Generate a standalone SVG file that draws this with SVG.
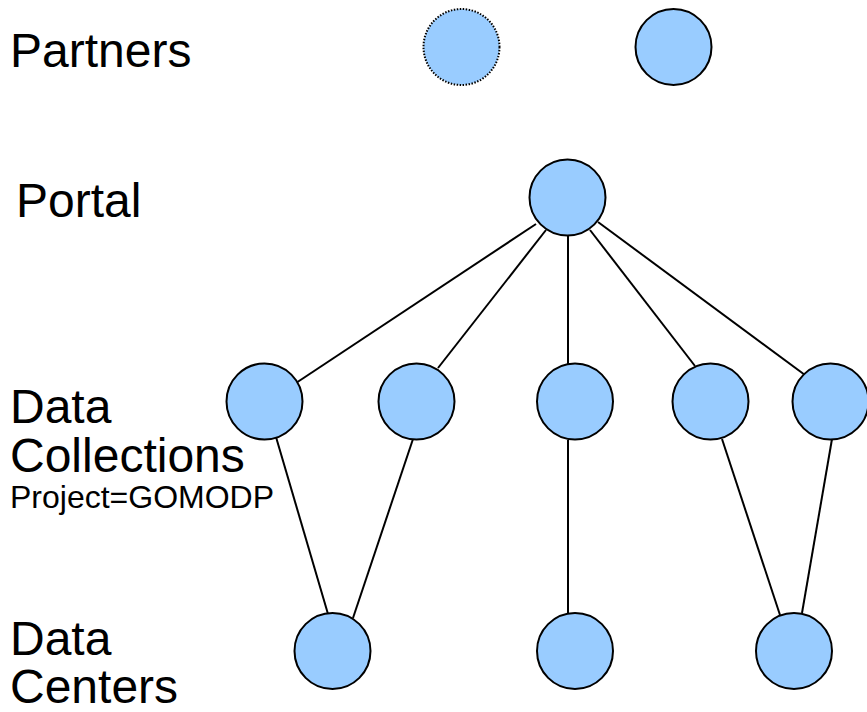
<svg xmlns="http://www.w3.org/2000/svg" width="867" height="712" viewBox="0 0 867 712">
<style>
.n{fill:#99ccff;stroke:#000;stroke-width:2}
.d{fill:#99ccff;stroke:#000;stroke-width:2;stroke-dasharray:1.5 1.5}
.e{stroke:#000;stroke-width:2;fill:none}
.t{font-family:"Liberation Sans",Arial,sans-serif;font-size:48px;fill:#000}
.s{font-family:"Liberation Sans",Arial,sans-serif;font-size:32px;fill:#000}
</style>
<rect width="867" height="712" fill="#fff"/>
<g id="labels">
<text class="t" x="10" y="67">Partners</text>
<text class="t" x="16" y="217">Portal</text>
<text class="t" x="10" y="423">Data</text>
<text class="t" x="10" y="472">Collections</text>
<text class="s" x="10" y="508">Project=GOMODP</text>
<text class="t" x="10" y="655">Data</text>
<text class="t" x="10" y="703">Centers</text>
</g>
<g id="connectors">
<line class="e" x1="536" y1="224" x2="296" y2="383"/>
<line class="e" x1="546" y1="230" x2="438" y2="368"/>
<line class="e" x1="568" y1="236" x2="568" y2="365"/>
<line class="e" x1="590" y1="230" x2="695" y2="366"/>
<line class="e" x1="598" y1="222" x2="805" y2="375"/>
<line class="e" x1="276" y1="437" x2="328" y2="614"/>
<line class="e" x1="413" y1="439" x2="353" y2="618"/>
<line class="e" x1="568" y1="440" x2="568" y2="613"/>
<line class="e" x1="722" y1="439" x2="780" y2="615"/>
<line class="e" x1="832" y1="439" x2="802" y2="613"/>
</g>
<g id="partner1"><circle class="d" cx="461.5" cy="47" r="38"/></g>
<g id="partner2"><circle class="n" cx="673.5" cy="47" r="38"/></g>
<g id="portal"><circle class="n" cx="567.5" cy="197.5" r="38"/></g>
<g id="dc1"><circle class="n" cx="264.5" cy="401.5" r="38"/></g>
<g id="dc2"><circle class="n" cx="416.5" cy="401.5" r="38"/></g>
<g id="dc3"><circle class="n" cx="575" cy="401.5" r="38"/></g>
<g id="dc4"><circle class="n" cx="710.5" cy="401.5" r="38"/></g>
<g id="dc5"><circle class="n" cx="830.5" cy="401.5" r="38"/></g>
<g id="center1"><circle class="n" cx="332.5" cy="651" r="38"/></g>
<g id="center2"><circle class="n" cx="575" cy="651" r="38"/></g>
<g id="center3"><circle class="n" cx="794" cy="651" r="38"/></g>
</svg>
